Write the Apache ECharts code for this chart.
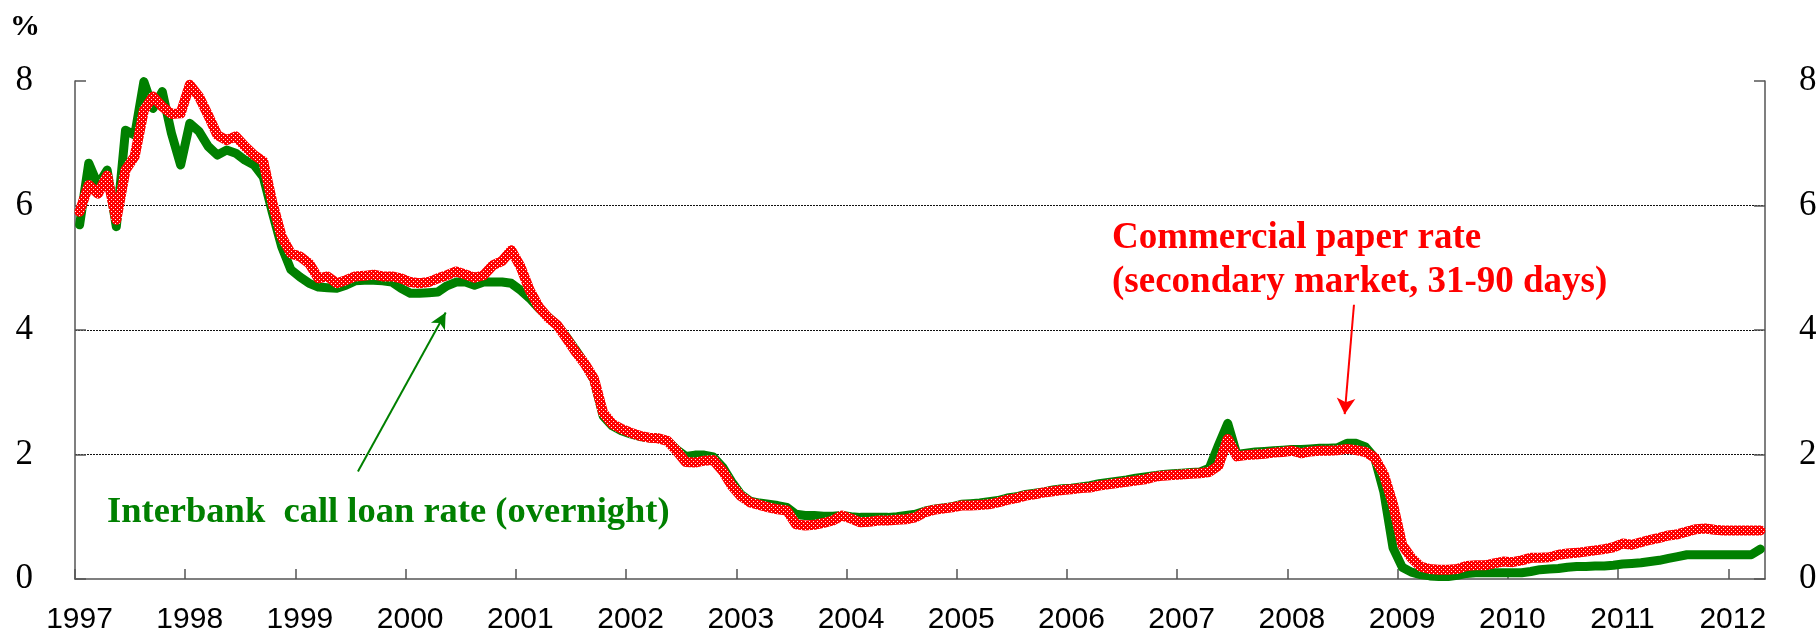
<!DOCTYPE html>
<html>
<head>
<meta charset="utf-8">
<script src="https://cdn.jsdelivr.net/npm/echarts@6/dist/echarts.min.js"></script>
<style>
html,body{margin:0;padding:0;background:#fff;}
#chart{width:1820px;height:640px;}
</style>
</head>
<body>
<div id="chart"></div>
<script>
// ---- data (monthly averages, Jan 1997 - Apr 2012) ----
const startYear = 1997;
const yTicks = [0, 2, 4, 6, 8];
const xTickYears = [1997,1998,1999,2000,2001,2002,2003,2004,2005,2006,2007,2008,2009,2010,2011,2012];

// Interbank call loan rate (overnight), %
const callRate = [
  5.69,6.68,6.33,6.57,5.66,7.21,7.13,7.99,7.56,7.83,7.16,6.65,   // 1997
  7.32,7.19,6.95,6.81,6.89,6.84,6.73,6.65,6.46,5.88,5.34,4.97,   // 1998
  4.85,4.75,4.69,4.68,4.67,4.72,4.79,4.80,4.80,4.79,4.77,4.67,   // 1999
  4.59,4.59,4.60,4.61,4.71,4.77,4.77,4.72,4.77,4.77,4.77,4.75,   // 2000
  4.64,4.51,4.35,4.21,4.08,3.89,3.68,3.46,3.20,2.62,2.46,2.38,   // 2001
  2.33,2.29,2.27,2.26,2.22,2.08,1.97,1.99,1.99,1.96,1.80,1.56,   // 2002
  1.36,1.25,1.22,1.20,1.18,1.15,1.04,1.02,1.02,1.01,1.01,1.02,   // 2003
  1.00,0.99,0.99,0.99,0.99,1.00,1.02,1.04,1.09,1.12,1.14,1.16,   // 2004
  1.20,1.21,1.22,1.24,1.26,1.30,1.32,1.36,1.38,1.40,1.43,1.45,   // 2005
  1.46,1.48,1.50,1.53,1.55,1.57,1.59,1.62,1.64,1.66,1.68,1.69,   // 2006
  1.70,1.71,1.72,1.78,2.15,2.50,2.00,2.02,2.04,2.05,2.06,2.07,   // 2007
  2.08,2.08,2.09,2.10,2.10,2.11,2.18,2.18,2.12,1.95,1.40,0.50,   // 2008
  0.19,0.11,0.07,0.05,0.04,0.04,0.06,0.09,0.10,0.10,0.10,0.10,   // 2009
  0.10,0.10,0.12,0.15,0.16,0.17,0.19,0.20,0.20,0.21,0.21,0.22,   // 2010
  0.24,0.25,0.26,0.28,0.30,0.33,0.36,0.39,0.39,0.39,0.39,0.39,   // 2011
  0.39,0.39,0.39,0.48                                            // 2012
];

// Commercial paper rate (secondary market, 31-90 days), %
const cpRate = [
  5.90,6.33,6.19,6.48,5.77,6.57,6.79,7.53,7.75,7.59,7.47,7.48,   // 1997
  7.94,7.75,7.45,7.13,7.05,7.11,6.95,6.81,6.71,6.04,5.50,5.23,   // 1998
  5.18,5.07,4.83,4.86,4.75,4.80,4.86,4.87,4.89,4.86,4.86,4.83,   // 1999
  4.77,4.75,4.77,4.83,4.88,4.94,4.89,4.84,4.88,5.04,5.11,5.28,   // 2000
  5.02,4.64,4.37,4.20,4.08,3.87,3.65,3.46,3.22,2.67,2.49,2.41,   // 2001
  2.35,2.30,2.27,2.26,2.22,2.06,1.88,1.87,1.90,1.91,1.74,1.50,   // 2002
  1.33,1.23,1.19,1.15,1.12,1.10,0.88,0.86,0.87,0.90,0.94,1.02,   // 2003
  0.97,0.91,0.92,0.94,0.94,0.95,0.96,0.99,1.07,1.11,1.13,1.15,   // 2004
  1.18,1.18,1.19,1.20,1.23,1.27,1.30,1.34,1.36,1.39,1.41,1.43,   // 2005
  1.44,1.46,1.47,1.50,1.52,1.54,1.56,1.58,1.60,1.64,1.66,1.67,   // 2006
  1.68,1.69,1.70,1.72,1.82,2.25,1.97,1.99,2.00,2.01,2.03,2.04,   // 2007
  2.06,2.02,2.05,2.06,2.06,2.07,2.09,2.07,2.04,1.95,1.68,1.20,   // 2008
  0.55,0.34,0.20,0.16,0.15,0.15,0.16,0.21,0.22,0.22,0.25,0.28,   // 2009
  0.27,0.30,0.34,0.34,0.35,0.39,0.41,0.42,0.44,0.46,0.48,0.51,   // 2010
  0.57,0.55,0.59,0.63,0.66,0.70,0.72,0.76,0.80,0.81,0.79,0.78,   // 2011
  0.78,0.78,0.78,0.78                                            // 2012
];

const callLabel = 'Interbank  call loan rate (overnight)';
const cpLabel1 = 'Commercial paper rate';
const cpLabel2 = '(secondary market, 31-90 days)';
const unitLabel = '%';

// ---- build ----
function toPairs(arr){
  return arr.map((v,i)=>[startYear + (i + 0.5)/12, v]);
}
const xMax = startYear + callRate.length/12;

// dotted red texture for the CP line
const pc = document.createElement('canvas');
pc.width = 4; pc.height = 4;
const pctx = pc.getContext('2d');
pctx.fillStyle = '#ff0000'; pctx.fillRect(0,0,4,4);
pctx.fillStyle = 'rgba(255,255,255,0.95)';
pctx.fillRect(1,1,1,1); pctx.fillRect(3,3,1,1);

const chart = echarts.init(document.getElementById('chart'), null, {renderer:'canvas'});
const axisColor = '#555';
const serif = '"Liberation Serif", "Times New Roman", serif';
const sans = '"Liberation Sans", Arial, sans-serif';

const yAxisCommon = {
  type:'value', min:0, max:8, interval:2,
  axisLine:{show:true, lineStyle:{color:axisColor, width:1.5}},
  axisTick:{show:true, inside:true, length:11, lineStyle:{color:axisColor, width:1.5}},
  splitLine:{show:false},
  axisLabel:{color:'#000', fontFamily:serif, fontSize:35}
};

chart.setOption({
  animation:false,
  backgroundColor:'#fff',
  grid:{left:75, right:55, top:81, bottom:61, containLabel:false},
  xAxis:{
    type:'value', min:startYear, max:xMax, interval:1,
    axisLine:{show:true, onZero:false, lineStyle:{color:axisColor, width:1.5}},
    axisTick:{show:true, inside:true, length:10, lineStyle:{color:axisColor, width:1.5}},
    splitLine:{show:false},
    axisLabel:{
      color:'#000', fontFamily:sans, fontSize:30, margin:26, showMaxLabel:false,
      padding:[0,0,0,9],
      formatter:(v)=> xTickYears.indexOf(Math.round(v))>=0 && Math.abs(v-Math.round(v))<1e-6 ? String(Math.round(v)) : ''
    }
  },
  yAxis:[
    Object.assign({}, yAxisCommon, {position:'left',
      axisLabel:Object.assign({}, yAxisCommon.axisLabel, {margin:42}),
      splitLine:{show:true, showMinLine:false, showMaxLine:false, lineStyle:{color:'#111', width:1, type:[2,1]}}
    }),
    Object.assign({}, yAxisCommon, {position:'right',
      axisLabel:Object.assign({}, yAxisCommon.axisLabel, {margin:34})
    })
  ],
  series:[
    {
      name:'Interbank call loan rate', type:'line', yAxisIndex:0,
      data:toPairs(callRate), showSymbol:false, symbol:'none',
      lineStyle:{color:'#008000', width:9, cap:'round', join:'round'},
      z:2,
      markLine:{
        silent:true, symbol:['none','arrow'], symbolSize:[12,16],
        label:{show:false},
        lineStyle:{color:'#008000', width:2, type:'solid'},
        data:[[{coord:[1999.567,1.727]},{coord:[2000.363,4.28]}]]
      }
    },
    {
      name:'Commercial paper rate', type:'line', yAxisIndex:0,
      data:toPairs(cpRate), showSymbol:false, symbol:'none',
      lineStyle:{color:{image:pc, repeat:'repeat'}, width:10, cap:'round', join:'round'},
      z:3,
      markLine:{
        silent:true, symbol:['none','arrow'], symbolSize:[14,16],
        label:{show:false},
        lineStyle:{color:'#ff0000', width:2, type:'solid'},
        data:[[{coord:[2008.604,4.406]},{coord:[2008.520,2.648]}]]
      }
    }
  ],
  graphic:[
    {type:'text', left:10, top:12, style:{text:unitLabel, font:'bold 30px '+serif, fill:'#000'}},
    {type:'text', x:107, y:513, style:{text:callLabel, font:'bold 36.5px '+serif, fill:'#008000', verticalAlign:'middle'}},
    {type:'text', x:1112, y:238, style:{text:cpLabel1, font:'bold 37px '+serif, fill:'#ff0000', verticalAlign:'middle'}},
    {type:'text', x:1112, y:282, style:{text:cpLabel2, font:'bold 37px '+serif, fill:'#ff0000', verticalAlign:'middle'}}
  ]
});
</script>
</body>
</html>
